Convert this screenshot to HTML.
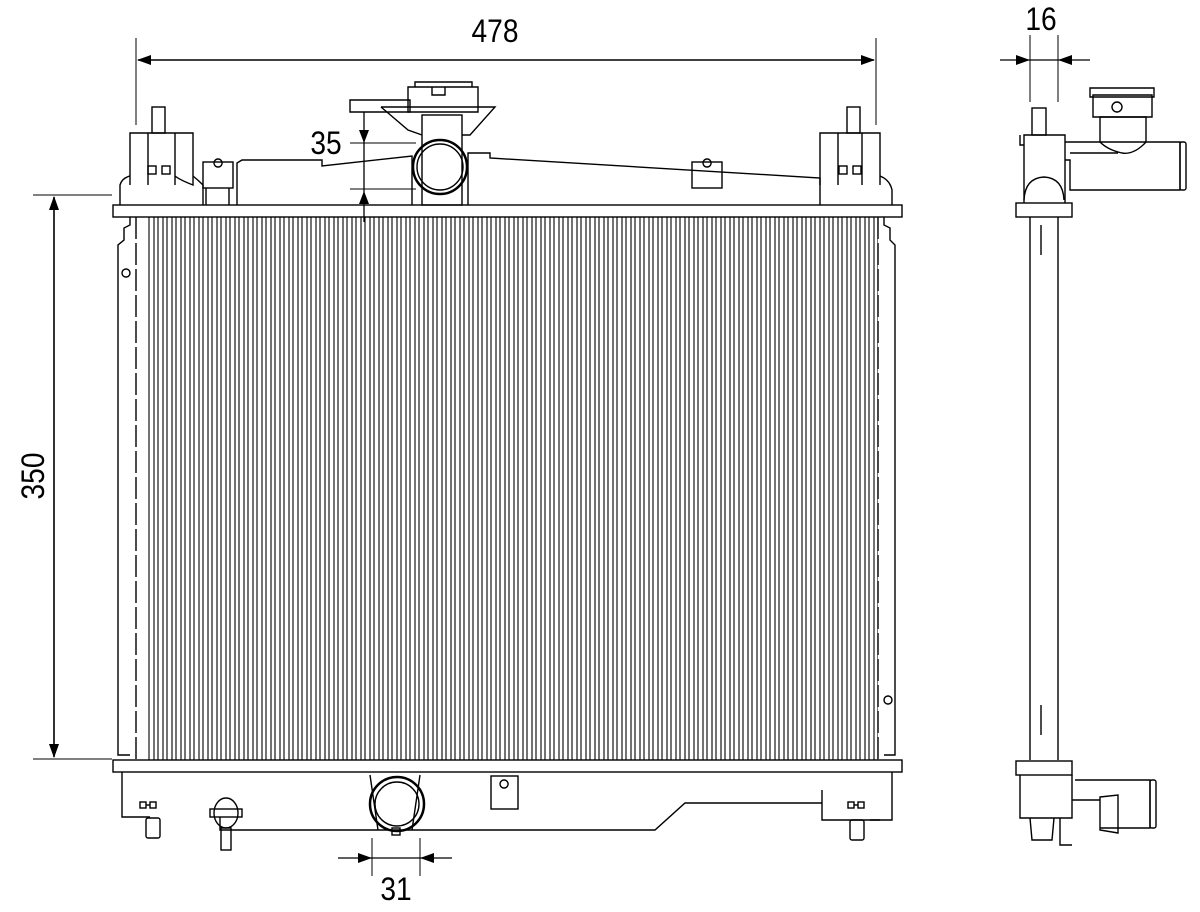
<!DOCTYPE html>
<html><head><meta charset="utf-8"><style>html,body{margin:0;padding:0;background:#fff}svg{display:block}</style></head>
<body>
<svg width="1200" height="912" viewBox="0 0 1200 912" xmlns="http://www.w3.org/2000/svg" fill="none" stroke="#000" stroke-width="1.4">
<defs>
<pattern id="fins" x="0" y="0" width="9" height="10" patternUnits="userSpaceOnUse">
<line x1="1" y1="0" x2="1" y2="10" stroke-width="1.1"/>
<line x1="5" y1="0" x2="5" y2="10" stroke-width="1.1"/>
</pattern>
</defs>
<g font-family="Liberation Sans, sans-serif" fill="#000" stroke="none" font-size="32">
<text transform="translate(495,42) scale(0.88,1)" text-anchor="middle">478</text>
<text transform="translate(1041,30) scale(0.88,1)" text-anchor="middle">16</text>
<text transform="translate(326,154) scale(0.88,1)" text-anchor="middle">35</text>
<text transform="translate(396,900) scale(0.88,1)" text-anchor="middle">31</text>
<text transform="translate(44,476) rotate(-90) scale(0.88,1)" text-anchor="middle">350</text>
</g>
<!-- dimension 478 -->
<line x1="136" y1="38" x2="136" y2="125" stroke-width="1"/>
<line x1="876" y1="38" x2="876" y2="125" stroke-width="1"/>
<line x1="138" y1="60" x2="874" y2="60" stroke-width="1.6"/>
<path d="M137 60 L151 55 L151 65Z M875 60 L861 55 L861 65Z" fill="#000" stroke="none"/>
<!-- dimension 350 -->
<line x1="33" y1="195" x2="112" y2="195" stroke-width="1"/>
<line x1="33" y1="759" x2="112" y2="759" stroke-width="1"/>
<line x1="54" y1="197" x2="54" y2="757" stroke-width="1.6"/>
<path d="M54 196 L49 210 L59 210Z M54 758 L49 744 L59 744Z" fill="#000" stroke="none"/>
<!-- dimension 16 -->
<line x1="1030" y1="35" x2="1030" y2="102" stroke-width="1"/>
<line x1="1058" y1="35" x2="1058" y2="102" stroke-width="1"/>
<line x1="1000" y1="60" x2="1090" y2="60" stroke-width="1.3"/>
<path d="M1030 60 L1016 55 L1016 65Z M1058 60 L1072 55 L1072 65Z" fill="#000" stroke="none"/>
<!-- dimension 35 -->
<line x1="364" y1="112" x2="364" y2="222" stroke-width="1.3"/>
<line x1="350" y1="143" x2="416" y2="143" stroke-width="1"/>
<line x1="350" y1="189" x2="416" y2="189" stroke-width="1"/>
<path d="M364 143 L359 130 L369 130Z M364 191 L359 204 L369 204Z" fill="#000" stroke="none"/>
<!-- dimension 31 -->
<line x1="372" y1="838" x2="372" y2="876" stroke-width="1"/>
<line x1="420" y1="838" x2="420" y2="876" stroke-width="1"/>
<line x1="338" y1="858" x2="452" y2="858" stroke-width="1.3"/>
<path d="M372 858 L358 853 L358 863Z M420 858 L434 853 L434 863Z" fill="#000" stroke="none"/>

<!-- core -->
<rect x="148" y="217" width="730" height="543" fill="url(#fins)" stroke="none"/>
<line x1="136" y1="217" x2="136" y2="760" stroke-dasharray="22 4"/>
<line x1="878" y1="217" x2="878" y2="760" stroke-dasharray="22 4"/>
<path d="M130 217 L130 225 L124 228 L124 240 L118 245 L118 755 L130 755"/>
<path d="M884 217 L884 225 L890 228 L890 240 L895 245 L895 755 L884 755"/>
<circle cx="126" cy="273" r="4"/>
<circle cx="888" cy="700" r="4"/>
<!-- headers -->
<rect x="113" y="205" width="789" height="12"/>
<rect x="113" y="760" width="789" height="12"/>
<!-- top tank -->
<path d="M120 205 L120 185 Q122 178 130 176 M193 176 Q198 180 203 185 L203 205"/>
<path d="M237 205 L237 163 L242 160 L322 160 L322 166 L412 156 L412 205"/>
<path d="M468 205 L468 153 L490 153 L490 158 L820 178 L820 205"/>
<path d="M880 176 Q890 180 892 190 L892 205"/>
<!-- left bracket -->
<path d="M130 185 L130 133 L193 133 L193 185 Q180 180 175 176 M148 133 L148 185 M175 133 L175 185"/>
<rect x="152" y="107" width="13" height="26"/>
<rect x="148" y="166" width="8" height="8"/><rect x="162" y="166" width="8" height="8"/>
<rect x="203" y="162" width="30" height="26"/>
<path d="M218 167 a4 4 0 1 1 0.1 0 Z"/>
<path d="M206 188 L206 205 M229 188 L229 205"/>
<!-- right bracket -->
<path d="M820 185 L820 133 L880 133 L880 185 M838 133 L838 185 M862 133 L862 185"/>
<rect x="847" y="107" width="13" height="26"/>
<rect x="839" y="166" width="8" height="8"/><rect x="853" y="166" width="8" height="8"/>
<rect x="692" y="162" width="30" height="26"/>
<path d="M707 167 a4 4 0 1 1 0.1 0 Z"/>
<!-- filler neck -->
<rect x="422" y="115" width="40" height="90"/>
<circle cx="440" cy="167" r="27" stroke-width="2.5"/>
<circle cx="440" cy="167" r="23"/>
<path d="M381 107 L495 107 L470 135 L462 135 M422 135 L408 130 L381 107"/>
<path d="M350 100 L410 100 L410 112 L350 112 Z"/>
<path d="M408 87 L478 87 L478 112 L408 112 Z M415 87 L415 82 L472 82 L472 87 M432 87 L432 95 L445 95 L445 87"/>
<!-- bottom tank -->
<path d="M122 772 L122 817 L140 817 M220 817 L220 830 L655 830 L685 803 L822 803 L822 817 M822 790 L822 820 L892 820 L892 772"/>
<path d="M140 817 L150 817 M870 820 L880 820"/>
<rect x="146" y="818" width="14" height="20" rx="2"/>
<rect x="850" y="820" width="14" height="20" rx="2"/>
<rect x="140" y="802" width="6" height="6"/><rect x="150" y="802" width="6" height="6"/><line x1="146" y1="805" x2="150" y2="805"/>
<rect x="848" y="802" width="6" height="6"/><rect x="858" y="802" width="6" height="6"/><line x1="854" y1="805" x2="858" y2="805"/>
<ellipse cx="226" cy="813" rx="12" ry="15"/>
<rect x="210" y="809" width="32" height="8"/>
<rect x="221" y="828" width="10" height="22"/>
<path d="M370 775 L378 830 M420 775 L412 830"/>
<ellipse cx="397" cy="804" rx="27" ry="27" stroke-width="2.5"/>
<ellipse cx="397" cy="804" rx="22" ry="22"/>
<rect x="392" y="828" width="8" height="7"/>
<rect x="491" y="776" width="27" height="33"/>
<path d="M504 788 a4 4 0 1 1 0.1 0 Z"/>

<!-- side view -->
<line x1="1030" y1="217" x2="1030" y2="760"/>
<line x1="1058" y1="217" x2="1058" y2="760"/>
<line x1="1041" y1="225" x2="1041" y2="750" stroke-dasharray="30 450"/>
<rect x="1016" y="203" width="56" height="14"/>
<rect x="1016" y="761" width="56" height="14"/>
<path d="M1024 203 L1024 135 L1065 135 L1065 203 M1020 135 L1020 145 L1024 145"/>
<path d="M1024 200 Q1025 178 1044 177 Q1063 178 1064 200"/>
<rect x="1032" y="108" width="14" height="27"/>
<path d="M1065 142 L1180 142 L1180 190 L1070 190 L1070 160 L1065 160 M1070 153 L1118 153"/>
<rect x="1180" y="142" width="6" height="48" rx="2"/>
<path d="M1100 142 L1100 117 L1146 117 L1146 142 Q1134 155 1122 153 Q1108 150 1100 142"/>
<path d="M1093 117 L1093 95 L1152 95 L1152 117 Z M1090 88 L1154 88 L1154 97 L1090 97Z"/>
<circle cx="1117" cy="107" r="5"/>
<path d="M1020 775 L1020 818 L1072 818 L1072 775 M1075 780 L1150 780 L1150 828 L1100 828 M1072 800 L1100 800 M1030 818 L1032 840 L1052 840 L1054 818 M1060 818 L1060 845 L1072 845"/>
<path d="M1100 797 L1118 795 L1118 833 L1100 830 Z"/>
<rect x="1150" y="780" width="6" height="48" rx="2"/>
</svg>
</body></html>
